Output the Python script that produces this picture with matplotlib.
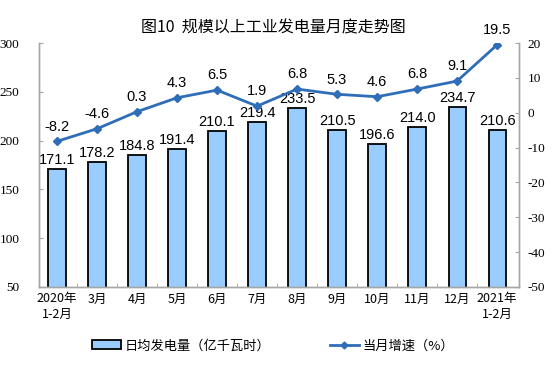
import matplotlib
matplotlib.use("Agg")
import matplotlib.pyplot as plt
import numpy as np
from matplotlib.patches import Patch
from matplotlib.lines import Line2D

CJK = ["Noto Sans CJK SC", "DejaVu Sans"]
SERIF = "Liberation Serif"
SANS = "Liberation Sans"

months = ["2020年\n1-2月", "3月", "4月", "5月", "6月", "7月", "8月", "9月",
          "10月", "11月", "12月", "2021年\n1-2月"]
daily_output = [171.1, 178.2, 184.8, 191.4, 210.1, 219.4, 233.5, 210.5,
                196.6, 214.0, 234.7, 210.6]
growth = [-8.2, -4.6, 0.3, 4.3, 6.5, 1.9, 6.8, 5.3, 4.6, 6.8, 9.1, 19.5]
left_ticks = list(range(50, 301, 50))
right_ticks = list(range(-50, 21, 10))

BAR_C = "#99CCFF"
LINE_C = "#2E6DB8"
AXIS_C = "#A6A6A6"

fig = plt.figure(figsize=(5.57, 3.78), dpi=100, facecolor="white")
ax = fig.add_axes([0.070, 0.241, 0.862, 0.645])
ax2 = ax.twinx()

x = np.arange(len(months))
ax.bar(x, daily_output, width=0.43, color=BAR_C, edgecolor="black",
       linewidth=1.3, zorder=2)
for xi, v in zip(x, daily_output):
    ax.text(xi, v + 2, f"{v:.1f}", ha="center", va="bottom",
            fontsize=10.5, family=SANS, color="black")

ax.set_ylim(50, 300)
ax.set_yticks(left_ticks)
ax.set_yticklabels([str(t) for t in left_ticks], fontfamily=SERIF, fontsize=9.5)
ax.set_xlim(-0.45, 11.55)
ax.set_xticks(x)
ax.set_xticklabels(months, fontsize=9, family=CJK, linespacing=1.2)
ax.set_xticks(np.arange(0.5, 11, 1), minor=True)
ax.tick_params(axis="x", which="major", length=0, pad=4)
ax.tick_params(axis="x", which="minor", direction="in", length=3, color=AXIS_C)
ax.tick_params(axis="y", direction="in", length=3, color=AXIS_C, pad=14)

ax2.plot(x, growth, color=LINE_C, lw=2, marker="D", ms=4.5, zorder=3)
for xi, v in zip(x, growth):
    ax2.text(xi, v + 2.2, f"{v:.1f}", ha="center", va="bottom",
             fontsize=10.5, family=SANS, color="black")
ax2.set_ylim(-50, 20)
ax2.set_yticks(right_ticks)
ax2.set_yticklabels([str(t) for t in right_ticks], fontfamily=SERIF,
                    fontsize=9.5)
ax2.tick_params(axis="y", direction="in", length=3, color=AXIS_C, pad=6)

for a in (ax, ax2):
    a.spines["top"].set_visible(False)
    for s in ("left", "right", "bottom"):
        a.spines[s].set_color(AXIS_C)
        a.spines[s].set_linewidth(1)

fig.text(0.49, 0.925, "图10  规模以上工业发电量月度走势图", ha="center",
         va="center", fontsize=11.5, family=CJK)

handles = [Patch(facecolor=BAR_C, edgecolor="black", linewidth=1.3),
           Line2D([], [], color=LINE_C, lw=2, marker="D", ms=3.5)]
labels = ["日均发电量（亿千瓦时）", "当月增速（%）"]
fig.legend(handles, labels, loc="center", bbox_to_anchor=(0.49, 0.085),
           ncol=2, frameon=False, prop={"family": CJK, "size": 9.5},
           handlelength=2.2, columnspacing=4.5, handletextpad=0.3)

fig.savefig("out.png", dpi=100, facecolor="white")
